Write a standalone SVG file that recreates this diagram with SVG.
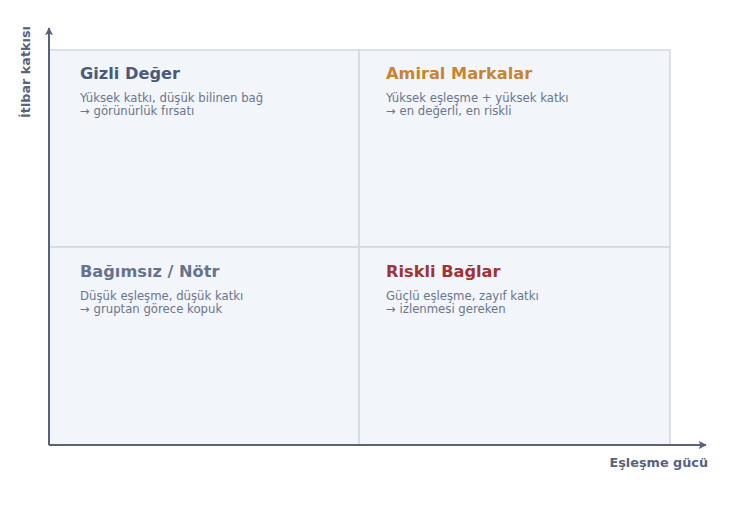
<svg xmlns="http://www.w3.org/2000/svg" width="742" height="515" viewBox="0 0 742 515">
<defs>
<marker id="arr" viewBox="0 0 10 10" refX="9" refY="5" markerWidth="8" markerHeight="8" markerUnits="userSpaceOnUse" orient="auto">
<path d="M0,0 L10,5 L0,10 L2,5 Z" fill="#56627e"/>
</marker>
<style>
text{font-family:"DejaVu Sans","Noto Sans",sans-serif}
.q{fill:#f2f6fb;stroke:#cfd8e3;stroke-width:1.5}
.t{font-size:16.2px;font-weight:bold}
.b{font-size:11.7px;fill:#6b7589}
.ax{stroke:#56627e;stroke-width:2;fill:none}
.al{font-size:12.8px;font-weight:bold;fill:#56627e}
</style>
</defs>
<rect width="742" height="515" fill="#ffffff"/>
<g id="q-tl"><rect class="q" x="49" y="50" width="310" height="197"/>
<text class="t" x="80" y="79" fill="#4b5a78">Gizli Değer</text>
<text class="b" x="80" y="102">Yüksek katkı, düşük bilinen bağ</text>
<text class="b" x="80" y="115">→ görünürlük fırsatı</text></g>
<g id="q-tr"><rect class="q" x="359" y="50" width="311" height="197"/>
<text class="t" x="386" y="79" fill="#c8842f">Amiral Markalar</text>
<text class="b" x="386" y="102">Yüksek eşleşme + yüksek katkı</text>
<text class="b" x="386" y="115">→ en değerli, en riskli</text></g>
<g id="q-bl"><rect class="q" x="49" y="247" width="310" height="198"/>
<text class="t" x="80" y="277" fill="#66738b">Bağımsız / Nötr</text>
<text class="b" x="80" y="300">Düşük eşleşme, düşük katkı</text>
<text class="b" x="80" y="313">→ gruptan görece kopuk</text></g>
<g id="q-br"><rect class="q" x="359" y="247" width="311" height="198"/>
<text class="t" x="386" y="277" fill="#a03434">Riskli Bağlar</text>
<text class="b" x="386" y="300">Güçlü eşleşme, zayıf katkı</text>
<text class="b" x="386" y="313">→ izlenmesi gereken</text></g>
<g id="connectors">
<line class="ax" x1="49" y1="445" x2="49" y2="28" marker-end="url(#arr)"/>
<line class="ax" x1="49" y1="445" x2="706" y2="445" marker-end="url(#arr)"/>
</g>
<g id="axis-labels">
<text class="al" transform="translate(30,72) rotate(-90)" text-anchor="middle">İtibar katkısı</text>
<text class="al" x="708" y="467" text-anchor="end">Eşleşme gücü</text>
</g>
</svg>
